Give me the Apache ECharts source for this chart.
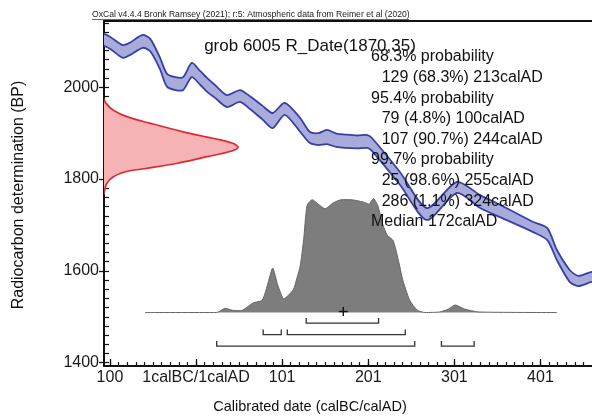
<!DOCTYPE html>
<html><head><meta charset="utf-8">
<script src="https://cdn.jsdelivr.net/npm/echarts@6/dist/echarts.min.js"></script>
<style>html,body{margin:0;padding:0;background:#fff}#c{width:592px;height:417px}</style>
</head><body><div id="c"></div>
<script>
// ---- data (astronomical years: 1 = 1 AD, 0 = 1 BC, -99 = 100 BC) ----
const curveYears = [-110, -99, -84, -76, -61, -52, -41, -33, -23, -14, -4, 6, 14, 23, 37, 52, 64, 78, 90, 104, 122, 133, 143, 153, 164, 174, 188, 200, 205, 238, 269, 304, 331, 354, 392, 409, 420, 435, 445, 461, 482];
const curveUpper = [2120, 2110, 2092, 2097, 2114, 2105, 2065, 2030, 2022, 2022, 2053, 2035, 2020, 2005, 1983, 1994, 1980, 1960, 1944, 1966, 1933, 1903, 1900, 1907, 1899, 1897, 1895, 1896, 1890, 1815, 1737, 1794, 1765, 1744, 1707, 1693, 1646, 1602, 1589, 1598, 1600];
const curveLower = [2094, 2084, 2064, 2070, 2086, 2078, 2040, 2002, 1994, 1994, 2022, 2005, 1990, 1977, 1957, 1968, 1952, 1930, 1911, 1940, 1903, 1879, 1874, 1876, 1870, 1868, 1867, 1868, 1862, 1787, 1711, 1770, 1737, 1717, 1685, 1667, 1624, 1576, 1567, 1576, 1578];

const rDateBP      = [1975, 1965, 1950, 1936, 1922, 1903, 1889, 1878, 1869, 1860, 1849, 1834, 1823, 1816, 1805, 1790, 1767];
const rDateDensity = [0, 0.015, 0.07, 0.17, 0.34, 0.59, 0.81, 0.96, 1.0, 0.94, 0.77, 0.54, 0.31, 0.16, 0.07, 0.02, 0];

const postYears   = [-58, 25, 35, 43, 53, 67, 78, 85, 90, 96, 103, 108, 114, 117, 122, 126, 130, 136, 143, 151, 160, 170, 180, 195, 202, 207, 212, 218, 223, 230, 236, 241, 249, 258, 267, 284, 294, 302, 313, 329, 420];
const postDensity = [0, 0, 0.037, 0.02, 0.016, 0.083, 0.11, 0.27, 0.39, 0.24, 0.12, 0.15, 0.2, 0.27, 0.41, 0.64, 0.94, 0.99, 0.95, 0.91, 0.96, 0.99, 0.99, 0.97, 0.95, 1.0, 0.94, 0.77, 0.68, 0.63, 0.46, 0.29, 0.11, 0.02, 0, 0.005, 0.03, 0.066, 0.03, 0.005, 0];

const rangeStarts = [129, 79, 107, 25, 286];
const rangeEnds   = [213, 100, 244, 255, 324];
const rangeRows   = [0, 1, 1, 2, 2];
const medianYear  = 172;

const xTickValues = [-99, 1, 101, 201, 301, 401];
const yTickValues = [1400, 1600, 1800, 2000];

const captionText = 'OxCal v4.4.4 Bronk Ramsey (2021); r:5: Atmospheric data from Reimer et al (2020)';
const titleText = 'grob 6005 R_Date(1870,35)';
const summaryLines  = ['68.3% probability', '129 (68.3%) 213calAD', '95.4% probability', '79 (4.8%) 100calAD', '107 (90.7%) 244calAD', '99.7% probability', '25 (98.6%) 255calAD', '286 (1.1%) 324calAD', 'Median 172calAD'];
const summaryIndent = [0, 1, 0, 1, 1, 0, 1, 1, 0];
const xAxisName = 'Calibrated date (calBC/calAD)';
const yAxisName = 'Radiocarbon determination (BP)';

// ---- layout ----
const FONT = '"Liberation Sans", Arial, Helvetica, sans-serif';
const X_MIN = -105.9, X_MAX = 460.9;
const Y_MIN = 1392.8, Y_MAX = 2144.4;
const RED_MAX = 3.642;
const POST_MIN = -0.469, POST_MAX = 2.557;

const xMinor = [];
for (let v = -99; v <= 451; v += 10) xMinor.push(v);
const yMinor = [];
for (let v = 1400; v <= 2140; v += 20) yMinor.push(v);

function xFmt(v) {
  if (v < 1) return String(1 - v);
  if (v === 1) return '1calBC/1calAD';
  return String(v);
}

const chart = echarts.init(document.getElementById('c'), null, {renderer: 'canvas'});

const blue = '#3740a6', lav = '#a9abda', red = '#dc2a30', pink = '#f6b3b6';

const graphics = [];
graphics.push({type: 'text', x: 92, y: 14.5, z: 100, style: {text: captionText, fontSize: 8.6, fontFamily: FONT, fill: '#222', textVerticalAlign: 'middle'}});
graphics.push({type: 'line', z: 100, shape: {x1: 92, y1: 19.5, x2: 409, y2: 19.5}, style: {stroke: '#444', lineWidth: 0.8}});
graphics.push({type: 'text', x: 310, y: 46, z: 100, style: {text: titleText, fontSize: 17, fontFamily: FONT, fill: '#111', textAlign: 'center', textVerticalAlign: 'middle'}});
summaryLines.forEach((t, i) => {
  graphics.push({type: 'text', x: summaryIndent[i] ? 381.7 : 371, y: 56.9 + i * 20.6, z: 100,
    style: {text: t, fontSize: 16, fontFamily: FONT, fill: '#111', textVerticalAlign: 'middle'}});
});
graphics.push({type: 'text', x: 310, y: 407, z: 100, style: {text: xAxisName, fontSize: 14.5, fontFamily: FONT, fill: '#111', textAlign: 'center', textVerticalAlign: 'middle'}});
graphics.push({type: 'text', x: 19, y: 195, rotation: Math.PI / 2, z: 100, style: {text: yAxisName, fontSize: 16, fontFamily: FONT, fill: '#111', textAlign: 'center', textVerticalAlign: 'middle'}});

const option = {
  animation: false,
  backgroundColor: '#fff',
  grid: {left: 104, top: 21, right: 0, bottom: 51, show: false},
  xAxis: [
    {type: 'value', position: 'bottom', min: X_MIN, max: X_MAX,
     axisLine: {show: true, onZero: false, lineStyle: {color: '#111', width: 2}},
     splitLine: {show: false},
     axisTick: {show: true, inside: true, length: 7, customValues: xTickValues, lineStyle: {color: '#111', width: 1.3}},
     axisLabel: {show: true, customValues: xTickValues, formatter: xFmt, fontSize: 16, color: '#1a1a1a', margin: 4, fontFamily: FONT}},
    {type: 'value', position: 'bottom', min: X_MIN, max: X_MAX,
     axisLine: {show: false, onZero: false}, splitLine: {show: false},
     axisTick: {show: true, inside: true, length: 4, customValues: xMinor, lineStyle: {color: '#111', width: 1.2}},
     axisLabel: {show: false}},
    {type: 'value', position: 'bottom', min: 0, max: RED_MAX, show: false},
    {type: 'value', position: 'top', min: X_MIN, max: X_MAX,
     axisLine: {show: true, onZero: false, lineStyle: {color: '#111', width: 2}},
     splitLine: {show: false}, axisTick: {show: false}, axisLabel: {show: false}}
  ],
  yAxis: [
    {type: 'value', position: 'left', min: Y_MIN, max: Y_MAX,
     axisLine: {show: true, onZero: false, lineStyle: {color: '#111', width: 2}},
     splitLine: {show: false},
     axisTick: {show: true, inside: false, length: 5, customValues: yTickValues, lineStyle: {color: '#111', width: 1.3}},
     axisLabel: {show: true, customValues: yTickValues, formatter: v => String(v), fontSize: 16, color: '#1a1a1a', margin: 5, fontFamily: FONT}},
    {type: 'value', position: 'left', min: Y_MIN, max: Y_MAX,
     axisLine: {show: false, onZero: false}, splitLine: {show: false},
     axisTick: {show: true, inside: true, length: 5, customValues: yMinor, lineStyle: {color: '#111', width: 1.2}},
     axisLabel: {show: false}},
    {type: 'value', position: 'left', min: POST_MIN, max: POST_MAX, show: false}
  ],
  graphic: graphics,
  series: [
    {type: 'line', name: 'posterior', xAxisIndex: 0, yAxisIndex: 2, z: 2,
     data: postYears.map((y, i) => [y, postDensity[i]]), symbol: 'none', smooth: 0.2,
     lineStyle: {color: '#666', width: 1}, areaStyle: {color: '#7d7d7d', opacity: 1}},
    {type: 'custom', name: 'calcurve', xAxisIndex: 0, yAxisIndex: 0, z: 3, clip: true,
     data: [[curveYears[0], curveUpper[0]]],
     renderItem: function (params, api) {
       const up = curveYears.map((y, i) => api.coord([y, curveUpper[i]]));
       const lo = curveYears.map((y, i) => api.coord([y, curveLower[i]]));
       const sm = 0.25;
       return {type: 'group', children: [
         {type: 'polygon', shape: {points: up.concat(lo.slice().reverse()), smooth: sm}, style: {fill: lav, stroke: null}},
         {type: 'polyline', shape: {points: up, smooth: sm}, style: {fill: null, stroke: blue, lineWidth: 1.8}},
         {type: 'polyline', shape: {points: lo, smooth: sm}, style: {fill: null, stroke: blue, lineWidth: 1.8}}
       ]};
     }},
    {type: 'custom', name: 'rdate', xAxisIndex: 2, yAxisIndex: 0, z: 4, clip: true,
     data: [[0, 1870]],
     renderItem: function (params, api) {
       const pts = rDateBP.map((bp, i) => api.coord([rDateDensity[i], bp]));
       return {type: 'group', children: [
         {type: 'polygon', shape: {points: pts, smooth: 0.35}, style: {fill: pink, stroke: null}},
         {type: 'polyline', shape: {points: pts, smooth: 0.35}, style: {fill: null, stroke: red, lineWidth: 1.7}}
       ]};
     }},
    {type: 'custom', name: 'ranges', xAxisIndex: 0, yAxisIndex: 2, z: 5, clip: false,
     data: rangeStarts.map((s, i) => [s, rangeEnds[i], rangeRows[i]]),
     renderItem: function (params, api) {
       const a = api.coord([api.value(0), 0]);
       const b = api.coord([api.value(1), 0]);
       const y = a[1] + 10.5 + api.value(2) * 11.5;
       return {type: 'polyline', shape: {points: [[a[0], y - 5], [a[0], y], [b[0], y], [b[0], y - 5]]},
               style: {fill: null, stroke: '#333', lineWidth: 1.3}};
     }},
    {type: 'custom', name: 'median', xAxisIndex: 0, yAxisIndex: 2, z: 6, clip: false,
     data: [[medianYear, 0]],
     renderItem: function (params, api) {
       const p = api.coord([api.value(0), api.value(1)]);
       return {type: 'group', children: [
         {type: 'line', shape: {x1: p[0] - 4.5, y1: p[1] - 1, x2: p[0] + 4.5, y2: p[1] - 1}, style: {stroke: '#111', lineWidth: 1.4}},
         {type: 'line', shape: {x1: p[0], y1: p[1] - 5.5, x2: p[0], y2: p[1] + 3.5}, style: {stroke: '#111', lineWidth: 1.4}}
       ]};
     }}
  ]
};
chart.setOption(option);
</script>
</body></html>
